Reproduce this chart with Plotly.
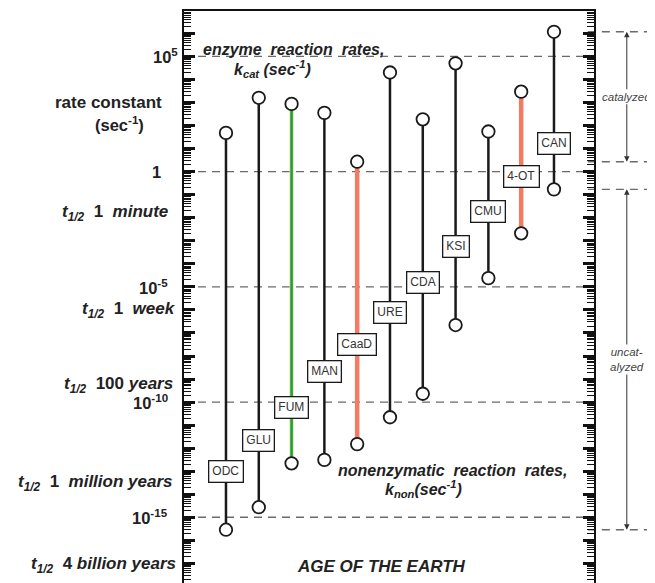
import plotly.graph_objects as go
import math

# ---------------- data ----------------
enzymes = ["ODC", "GLU", "FUM", "MAN", "CaaD", "URE", "CDA", "KSI", "CMU", "4-OT", "CAN"]
kcat = [48, 1600, 870, 355, 2.7, 2.0e4, 186, 5.0e4, 55, 2950, 1.17e6]          # sec^-1
knon = [2.9e-16, 2.75e-15, 2.2e-13, 3.1e-13, 1.5e-12, 2.2e-11, 2.3e-10,
        2.2e-7, 2.4e-5, 2.1e-3, 0.17]                                          # sec^-1

decade_values = [1e5, 1, 1e-5, 1e-10, 1e-15]
decade_labels = ["10<sup>5</sup>", "1", "10<sup>-5</sup>", "10<sup>-10</sup>", "10<sup>-15</sup>"]
halflife_labels = ["1\u00a0\u00a0<i>minute</i>", "1\u00a0\u00a0<i>week</i>", "100 <i>years</i>",
                   "1\u00a0\u00a0<i>million years</i>", "4 <i>billion years</i>"]

# ---------------- layout helpers (positions / styles) ----------------
label_log_pos = [-13.03, -11.68, -10.25, -8.69, -7.52, -6.13, -4.83, -3.24, -1.74, -0.22, 1.23]
halflife_log_pos = [-1.81, -6.0, -9.24, -13.53, -17.06]
halflife_xshift = [-14, -6, -9, -9, -6]
decade_xshift = [-4, -21, -14, -14, -14]
special = {"FUM": ("#17a052", 2.6), "CaaD": ("#f47b62", 4.5), "4-OT": ("#f47b62", 4.5)}
FONT = "Liberation Sans, Arial, Helvetica, sans-serif"
TXT = "#222222"

fig = go.Figure()
xs = list(range(len(enzymes)))

for i, name in enumerate(enzymes):
    color, width = special.get(name, ("#1a1a1a", 2.5))
    if name == "FUM":
        fig.add_trace(go.Scatter(x=[i, i], y=[knon[i], kcat[i]], mode="lines",
                                 line=dict(color="#e8e070", width=4.2), hoverinfo="skip",
                                 showlegend=False))
    fig.add_trace(go.Scatter(x=[i, i], y=[knon[i], kcat[i]], mode="lines",
                             line=dict(color=color, width=width), hoverinfo="skip",
                             showlegend=False))

fig.add_trace(go.Scatter(x=xs + xs, y=kcat + knon, mode="markers",
                         marker=dict(size=12.5, color="white",
                                     line=dict(color="#1a1a1a", width=1.8)),
                         cliponaxis=False, showlegend=False, hoverinfo="skip"))

annotations = []
# enzyme name boxes
for i, name in enumerate(enzymes):
    annotations.append(dict(x=i, y=label_log_pos[i], xref="x", yref="y", text=name,
                            showarrow=False, bgcolor="white", bordercolor="#1a1a1a",
                            borderwidth=1.3, borderpad=3,
                            font=dict(family=FONT, size=12, color="#333333")))

# left labels
for v, lab, xs_ in zip(decade_values, decade_labels, decade_xshift):
    annotations.append(dict(x=0, y=math.log10(v), xref="paper", yref="y", text="<b>" + lab + "</b>",
                            xanchor="right", yanchor="middle", xshift=xs_, showarrow=False,
                            font=dict(family=FONT, size=16.5, color=TXT)))
for lab, yp, xs_ in zip(halflife_labels, halflife_log_pos, halflife_xshift):
    annotations.append(dict(x=0, y=yp, xref="paper", yref="y",
                            text="<b><i>t<sub>1/2</sub></i>\u00a0\u00a0" + lab + "</b>",
                            xanchor="right", yanchor="middle", xshift=xs_, showarrow=False,
                            font=dict(family=FONT, size=17, color=TXT)))
annotations.append(dict(x=-0.183, y=3.0, xref="paper", yref="y", xanchor="center",
                        yanchor="middle", text="<b>rate constant</b>",
                        showarrow=False, font=dict(family=FONT, size=17, color=TXT)))
annotations.append(dict(x=-0.158, y=2.05, xref="paper", yref="y", xanchor="center",
                        yanchor="middle", text="<b>(sec<sup>-1</sup>)</b>",
                        showarrow=False, font=dict(family=FONT, size=16.5, color=TXT)))

# in-plot titles
nb = "\u00a0"
annotations += [
    dict(x=0.267, y=5.28, xref="paper", yref="y", xanchor="center", yanchor="middle",
         text="<b><i>enzyme" + nb * 2 + "reaction" + nb * 2 + "rates,</i></b>",
         showarrow=False, font=dict(family=FONT, size=16, color=TXT)),
    dict(x=0.216, y=4.46, xref="paper", yref="y", xanchor="center", yanchor="middle",
         text="<b><i>k<sub>cat</sub> (sec<sup>-1</sup>)</i></b>",
         showarrow=False, font=dict(family=FONT, size=16, color=TXT)),
    dict(x=0.656, y=-12.96, xref="paper", yref="y", xanchor="center", yanchor="middle",
         text="<b><i>nonenzymatic" + nb * 2 + "reaction" + nb * 2 + "rates,</i></b>",
         showarrow=False, font=dict(family=FONT, size=16, color=TXT)),
    dict(x=0.583, y=-13.78, xref="paper", yref="y", xanchor="center", yanchor="middle",
         text="<b><i>k<sub>non</sub>(sec<sup>-1</sup>)</i></b>",
         showarrow=False, font=dict(family=FONT, size=16, color=TXT)),
    dict(x=0.482, y=-17.14, xref="paper", yref="y", xanchor="center", yanchor="middle",
         text="<b><i>AGE OF THE EARTH</i></b>",
         showarrow=False, font=dict(family=FONT, size=17, color=TXT)),
]

# right side range arrows
ax_x = 1.080
for lo, hi, txt in [(min(kcat), max(kcat), "catalyzed"), (min(knon), max(knon), "uncat-<br>alyzed")]:
    mid = (math.log10(lo) + math.log10(hi)) / 2
    for end, col in [(math.log10(hi), "#444444"), (math.log10(lo), "rgba(0,0,0,0)")]:
        annotations.append(dict(x=ax_x, y=end, xref="paper", yref="y", ax=0, ay=mid,
                                axref="pixel", ayref="y", text="<i>" + txt + "</i>",
                                showarrow=True, arrowhead=2, arrowsize=1.1, arrowwidth=1,
                                arrowcolor="#333333", standoff=0, startstandoff=0,
                                font=dict(family=FONT, size=11.5, color=col)))

shapes = []
for v in decade_values:
    shapes.append(dict(type="line", xref="paper", yref="y", x0=0, x1=1, y0=v, y1=v,
                       layer="below", line=dict(color="#6a6a6a", width=1.4, dash="8px,6px")))
for v in [max(kcat), min(kcat), max(knon), min(knon)]:
    shapes.append(dict(type="line", xref="paper", yref="y", x0=0.985, x1=1.15, y0=v, y1=v,
                       layer="below", line=dict(color="#6a6a6a", width=1.4, dash="8px,6px")))

# the page body adds an 8px offset, so the figure is sized/margined to compensate
fig.update_layout(
    width=647, height=575,
    margin=dict(l=176, r=61, t=3, b=0),
    paper_bgcolor="white", plot_bgcolor="white",
    showlegend=False,
    annotations=annotations, shapes=shapes,
    xaxis=dict(range=[-1.28, 11.22], showgrid=False, zeroline=False, showticklabels=False,
               ticks="", showline=True, linecolor="#111111", linewidth=2, side="top",
               fixedrange=True),
    yaxis=dict(type="log", range=[-17.85, 6.97], showgrid=False, zeroline=False,
               showticklabels=False, dtick=1, ticks="inside", ticklen=11, tickwidth=3,
               tickcolor="#111111", showline=True, linecolor="#111111", linewidth=2,
               mirror="ticks",
               minor=dict(ticks="inside", ticklen=7, tickwidth=1, tickcolor="#111111",
                          dtick="D1", showgrid=False)),
)

fig.write_html("out.html")
